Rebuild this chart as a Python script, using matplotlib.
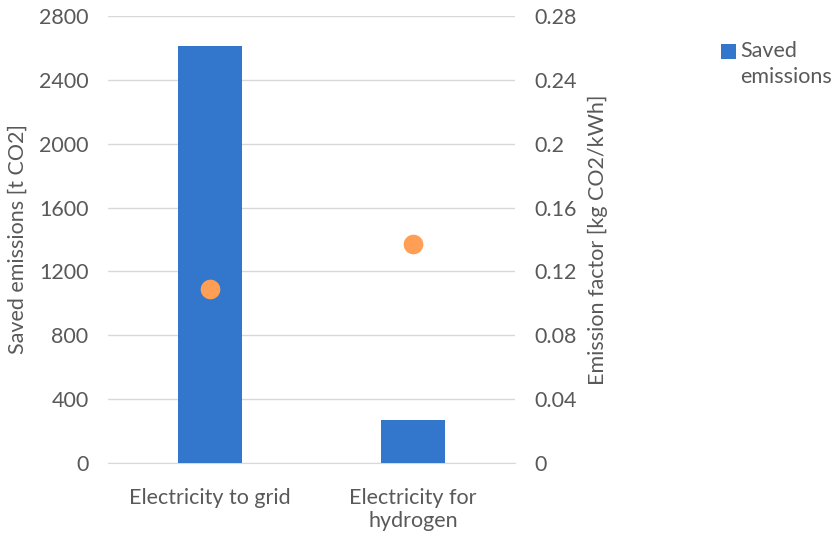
import numpy as np
import matplotlib.pyplot as plt

categories = ["Electricity to grid", "Electricity for\nhydrogen"]
saved_emissions = [2610, 270]          # t CO2
emission_factor = [0.109, 0.137]       # kg CO2/kWh

plt.rcParams['font.family'] = ['Lato', 'DejaVu Sans']
grey = '#595959'
fs = 15.5

fig = plt.figure(figsize=(8.37, 5.35), dpi=100)
ax = fig.add_axes([108 / 837, 1 - 463 / 535, 407 / 837, 447 / 535])
ax2 = ax.twinx()

x = np.arange(len(categories))
ax.bar(x, saved_emissions, width=0.315, color='#3277CC', label='Saved\nemissions', zorder=3)
ax2.scatter(x, emission_factor, s=200, color='#FF9F55', zorder=4, linewidths=0)

ax.set_xlim(-0.5, 1.5)
ax.set_ylim(0, 2800)
ax.set_yticks(np.arange(0, 2801, 400))
ax2.set_ylim(0, 0.28)
ax2.set_yticks([0, 0.04, 0.08, 0.12, 0.16, 0.2, 0.24, 0.28])
ax2.set_yticklabels(['0', '0.04', '0.08', '0.12', '0.16', '0.2', '0.24', '0.28'])

ax.set_xticks(x)
ax.set_xticklabels(categories)
ax.yaxis.grid(True, color='#D9D9D9', linewidth=1, zorder=0)

for a in (ax, ax2):
    for s in a.spines.values():
        s.set_visible(False)
    a.tick_params(length=0, labelsize=fs, colors=grey, pad=14)
ax.spines['bottom'].set_visible(True)
ax.spines['bottom'].set_color('#D9D9D9')
ax.tick_params(axis='x', pad=18)

ax.set_ylabel('Saved emissions [t CO2]', fontsize=fs, color=grey, labelpad=8)
ax2.set_ylabel('Emission factor [kg CO2/kWh]', fontsize=fs, color=grey, labelpad=8)

leg = fig.legend(loc='upper left', bbox_to_anchor=(0.851, 0.939), frameon=False,
                 fontsize=fs, labelcolor=grey, handlelength=0.7, handleheight=0.7,
                 handletextpad=0.2, borderaxespad=0)
leg.get_texts()[0].set_linespacing(1.35)
# put the square next to the first line of the label
sq = leg.legend_handles[0]
sq.set_y(sq.get_y() + 9.5)

fig.savefig('out.png', dpi=100)
